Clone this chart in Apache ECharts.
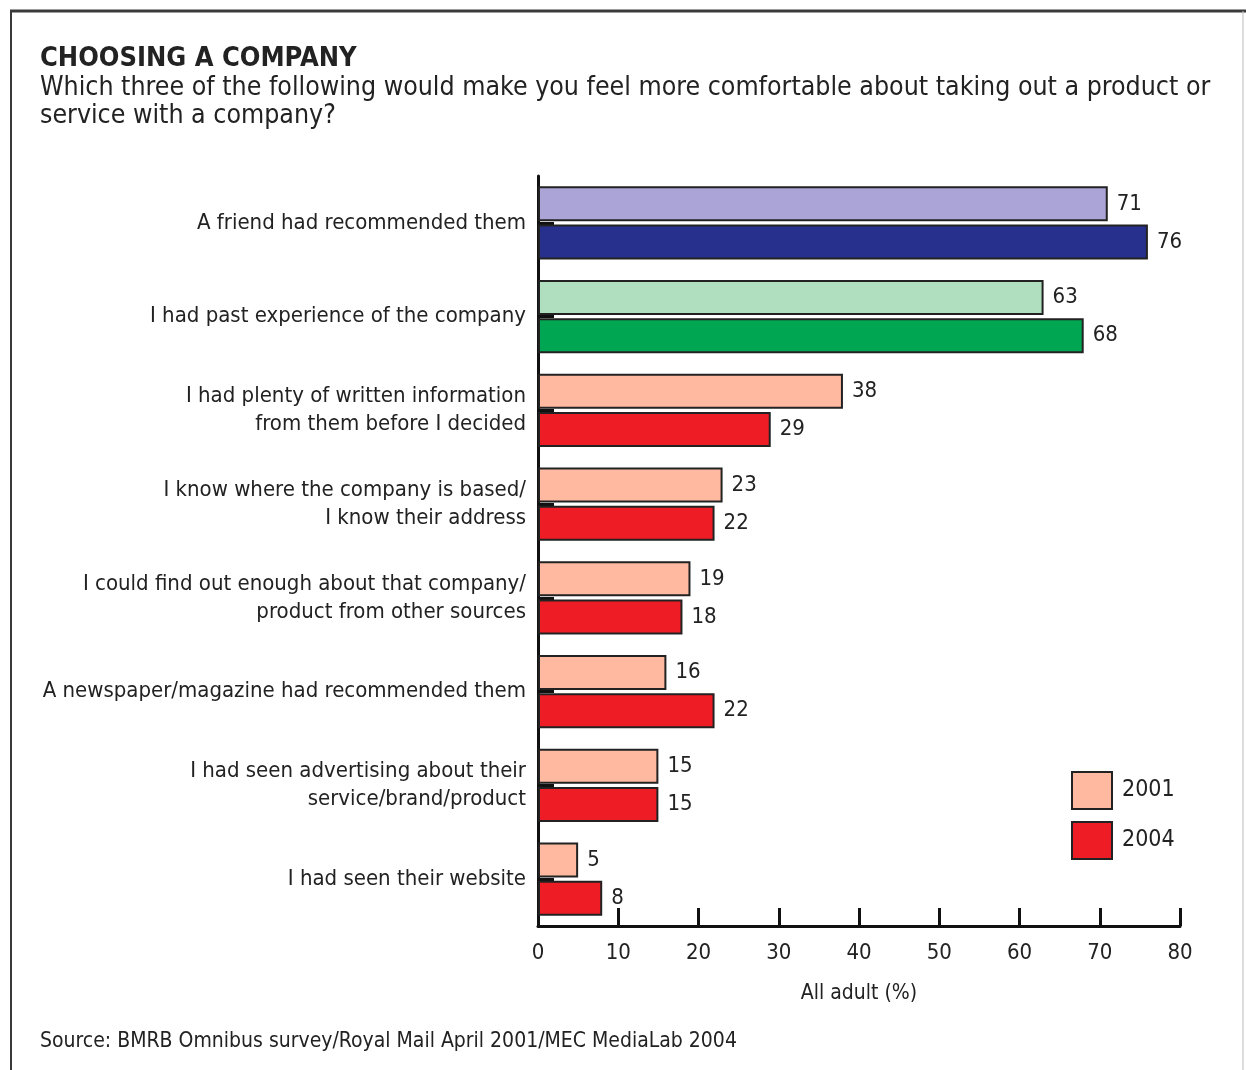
<!DOCTYPE html>
<html>
<head>
<meta charset="utf-8">
<script src="https://cdn.jsdelivr.net/npm/echarts@6/dist/echarts.min.js"></script>
<style>
  html, body { margin: 0; padding: 0; background: #fff; }
  #chart { width: 1246px; height: 1070px; }
</style>
</head>
<body>
<div id="chart"></div>
<script>
// survey answers, top to bottom
var categories = [
  'A friend had recommended them',
  'I had past experience of the company',
  'I had plenty of written information\nfrom them before I decided',
  'I know where the company is based/\nI know their address',
  'I could find out enough about that company/\nproduct from other sources',
  'A newspaper/magazine had recommended them',
  'I had seen advertising about their\nservice/brand/product',
  'I had seen their website'
];
var values2001 = [71, 63, 38, 23, 19, 16, 15, 5];
var values2004 = [76, 68, 29, 22, 18, 22, 15, 8];
var xTicks = [0, 10, 20, 30, 40, 50, 60, 70, 80];

// first two rows have their own colours in the original
var light = ['#aba4d6', '#afdfbf'];
var dark = ['#28308e', '#00a651'];
var salmon = '#ffb9a0';
var red = '#ee1c25';

var font = '"DejaVu Sans Condensed", "Liberation Sans", sans-serif';

function items(vals, special) {
  return vals.map(function (v, i) {
    var d = { value: v };
    if (special[i]) d.itemStyle = { color: special[i] };
    return d;
  });
}

var chart = echarts.init(document.getElementById('chart'));
chart.setOption({
  backgroundColor: '#fff',
  animation: false,
  textStyle: { fontFamily: font },
  graphic: [
    { type: 'line', shape: { x1: 10, y1: 11, x2: 1246, y2: 11 }, style: { stroke: '#3a3a3a', lineWidth: 3 } },
    { type: 'line', shape: { x1: 11, y1: 10, x2: 11, y2: 1070 }, style: { stroke: '#3a3a3a', lineWidth: 2 } },
    { type: 'line', shape: { x1: 1243, y1: 11, x2: 1243, y2: 1070 }, style: { stroke: '#bbbbbb', lineWidth: 1 } },
    { type: 'text', left: 40, top: 45, style: { text: 'CHOOSING A COMPANY', fontSize: 27, fontWeight: 'bold', fill: '#222', fontFamily: font } },
    { type: 'text', left: 40, top: 74, style: { text: 'Which three of the following would make you feel more comfortable about taking out a product or\nservice with a company?', fontSize: 26.5, lineHeight: 28, fill: '#222', fontFamily: font } },
    { type: 'text', left: 40, top: 1031, style: { text: 'Source: BMRB Omnibus survey/Royal Mail April 2001/MEC MediaLab 2004', fontSize: 21, fill: '#222', fontFamily: font } }
  ],
  legend: {
    orient: 'vertical',
    left: 1071,
    top: 771,
    padding: 0,
    itemWidth: 40,
    itemHeight: 37,
    itemGap: 11,
    icon: 'rect',
    textStyle: { fontSize: 23, color: '#222', fontFamily: font, padding: [0, 0, 0, 5] },
    itemStyle: { borderColor: '#222', borderWidth: 2 },
    data: ['2001', '2004']
  },
  grid: { left: 538, right: 66, top: 176, bottom: 144 },
  xAxis: {
    type: 'value',
    min: 0, max: 80, interval: 10,
    name: 'All adult (%)',
    nameLocation: 'middle',
    nameGap: 57,
    nameTextStyle: { fontSize: 21, color: '#222', fontFamily: font },
    axisLine: { show: true, lineStyle: { color: '#111', width: 3 } },
    axisTick: { show: true, inside: true, length: 18, lineStyle: { color: '#111', width: 3 } },
    axisLabel: { fontSize: 22, color: '#222', margin: 16, fontFamily: font,
      formatter: function (v) { return xTicks.indexOf(v) >= 0 ? String(v) : ''; } },
    splitLine: { show: false }
  },
  yAxis: {
    type: 'category',
    inverse: true,
    data: categories,
    axisLine: { show: true, lineStyle: { color: '#111', width: 3 } },
    axisTick: { show: true, inside: true, alignWithLabel: true, length: 16, lineStyle: { color: '#111', width: 3 } },
    axisLabel: { fontSize: 22, lineHeight: 28, color: '#222', margin: 12, fontFamily: font }
  },
  series: [
    {
      name: '2001', type: 'bar',
      barWidth: 35, barGap: '9%',
      itemStyle: { color: salmon, borderColor: '#222', borderWidth: 2 },
      label: { show: true, position: 'right', distance: 9, fontSize: 22, color: '#222', fontFamily: font },
      data: items(values2001, light)
    },
    {
      name: '2004', type: 'bar',
      barWidth: 35,
      itemStyle: { color: red, borderColor: '#222', borderWidth: 2 },
      label: { show: true, position: 'right', distance: 9, fontSize: 22, color: '#222', fontFamily: font },
      data: items(values2004, dark)
    }
  ]
});
</script>
</body>
</html>
